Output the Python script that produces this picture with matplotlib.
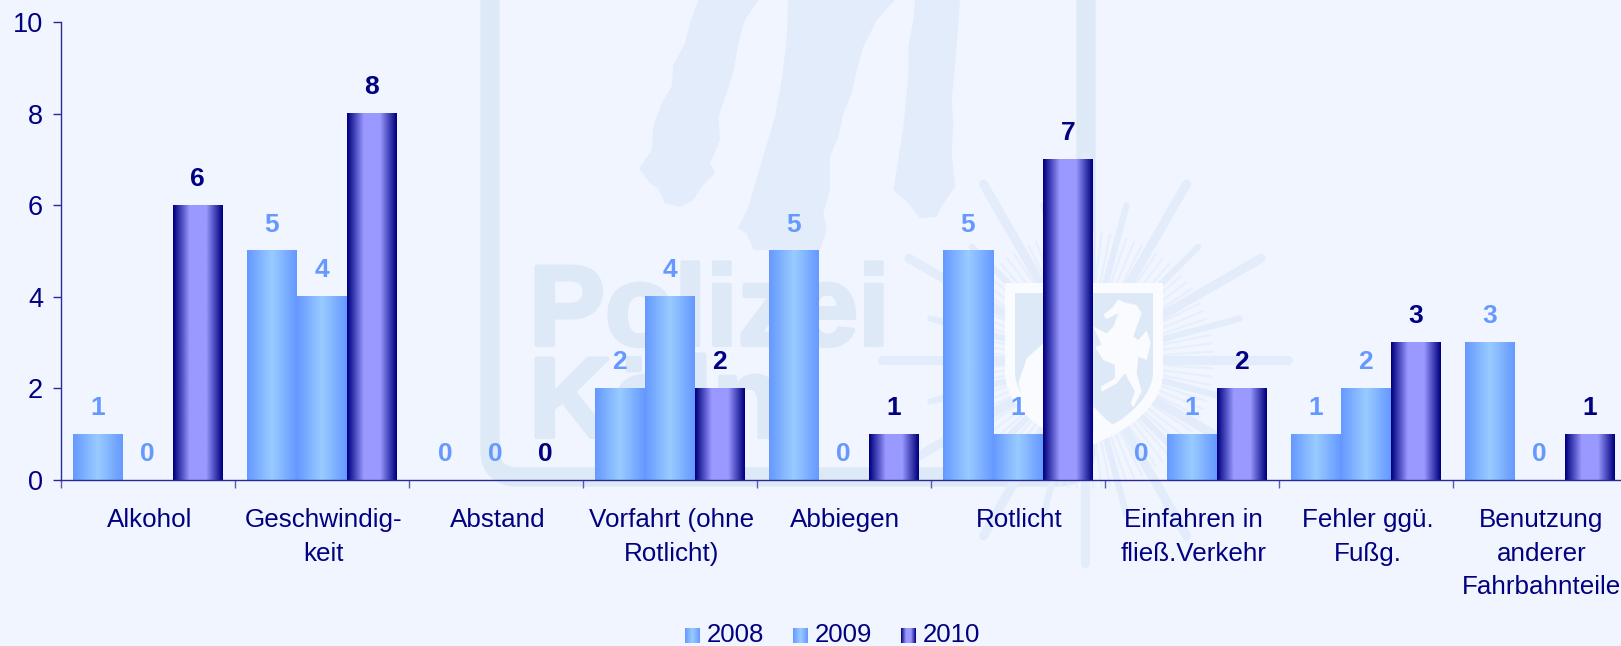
import numpy as np
import matplotlib
matplotlib.use('Agg')
import matplotlib.pyplot as plt
import matplotlib.patheffects as pe
from matplotlib.colors import LinearSegmentedColormap
from matplotlib.patches import FancyBboxPatch, Polygon, PathPatch
from matplotlib.path import Path

plt.rcParams['font.family'] = ['Liberation Sans', 'DejaVu Sans']

# Data
categories = ['Alkohol', 'Geschwindig-\nkeit', 'Abstand', 'Vorfahrt (ohne\nRotlicht)', 'Abbiegen',
              'Rotlicht', 'Einfahren in\nfließ.Verkehr', 'Fehler ggü.\nFußg.',
              'Benutzung\nanderer\nFahrbahnteile']
years = ['2008', '2009', '2010']
v2008 = [1, 5, 0, 2, 5, 5, 0, 1, 3]
v2009 = [0, 4, 0, 4, 0, 1, 1, 2, 0]
v2010 = [6, 8, 0, 2, 1, 7, 2, 3, 1]
yticks = [0, 2, 4, 6, 8, 10]

W, H = 1621, 646
BG = '#F1F5FF'
WM = '#DEE9F8'
WM_SOFT = '#E3ECFA'
WM_FINE = '#E7EFFB'
WHITE = '#FAFBFE'
NAVY = '#000080'
LIGHT = '#6699FF'
AXIS = '#2A2A96'

light_cmap = LinearSegmentedColormap.from_list('light', ['#6699FF', '#99CCFF', '#6699FF'])
dark_cmap = LinearSegmentedColormap.from_list('dark', ['#000080', '#9999FF', '#9999FF', '#000080'])
grad = np.linspace(0, 1, 64).reshape(1, -1)

fig = plt.figure(figsize=(W / 100, H / 100), dpi=100, facecolor=BG)

# Background layer in pixel coordinates: watermark and legend
bg = fig.add_axes([0, 0, 1, 1], zorder=0)
bg.set_xlim(0, W)
bg.set_ylim(H, 0)
bg.axis('off')

# frame of the logo
bg.add_patch(FancyBboxPatch((490, -60), 596, 537, boxstyle='round,pad=0,rounding_size=28',
                            fill=False, ec=WM, lw=14))

streak1 = [(205, 0), (385, 0), (345, 60), (325, 130), (310, 215), (290, 280), (265, 350), (270, 420), (240, 490),
           (255, 520), (215, 560), (190, 600), (150, 620), (105, 610), (85, 565), (60, 550), (28, 505), (65, 450),
           (70, 380), (95, 310), (125, 260), (130, 195), (165, 130), (180, 70)]
streak2 = [(475, 0), (795, 0), (740, 60), (700, 140), (680, 210), (665, 280), (640, 340), (625, 410), (600, 470),
           (600, 570), (580, 640), (590, 690), (570, 750), (370, 750), (350, 700), (325, 685), (355, 620), (385, 520),
           (405, 450), (435, 350), (455, 240), (470, 120)]
streak3 = [(855, 0), (990, 0), (985, 70), (975, 200), (965, 300), (970, 370), (965, 460), (975, 560), (935, 620),
           (920, 650), (870, 655), (835, 610), (790, 570), (805, 480), (820, 380), (835, 230), (835, 140), (850, 60)]
for s in [streak1, streak2, streak3]:
    pts = [(630 + px / 3, py / 3) for px, py in s]
    bg.add_patch(Polygon(pts, closed=True, fc=WM_SOFT, ec='none'))

# star behind the shield
cx, cy = 1085, 360
for a in np.arange(0, 360, 3.75):
    rad = np.deg2rad(a)
    if a % 30 == 0:
        r, lw, col = 203, 6.5, WM_SOFT
    elif a % 15 == 0:
        r, lw, col = 160, 4.5, WM_SOFT
    else:
        r, lw, col = 128, 1.5, WM_FINE
    bg.plot([cx + 60 * np.cos(rad), cx + r * np.cos(rad)],
            [cy + 60 * np.sin(rad), cy + r * np.sin(rad)],
            color=col, lw=lw, solid_capstyle='round', zorder=1)

def crop_pts(pts):
    return [(880 + px / 3, 170 + py / 3) for px, py in pts]

def shield_path(l, r, t, b):
    m = (l + r) / 2
    s = t + (b - t) * 0.55
    verts = [(l, t), (r, t), (r, s), (r, b - 40), (m + 40, b - 12), (m, b), (m - 40, b - 12), (l, b - 40), (l, s), (l, t)]
    codes = [Path.MOVETO, Path.LINETO, Path.LINETO, Path.CURVE4, Path.CURVE4, Path.CURVE4, Path.CURVE4, Path.CURVE4,
             Path.CURVE4, Path.CLOSEPOLY]
    return Path(verts, codes)

bg.add_patch(PathPatch(shield_path(1005, 1163, 283, 447), fc=WHITE, ec='none', zorder=3))
bg.add_patch(PathPatch(shield_path(1015, 1153, 293, 437), fc=WM, ec='none', zorder=3))
horse = [(715, 388), (735, 398), (770, 405), (785, 430), (770, 470), (760, 500), (775, 510), (800, 482), (812, 520),
         (800, 570), (775, 560), (770, 610), (785, 665), (760, 712), (752, 700), (765, 665), (735, 610), (710, 640),
         (665, 665), (662, 650), (705, 625), (705, 585), (670, 570), (645, 530), (665, 525), (640, 470), (680, 490),
         (700, 470), (715, 430), (680, 447), (670, 435), (700, 410)]
bg.add_patch(Polygon(crop_pts(horse), closed=True, fc=WHITE, ec='none', zorder=4))
bg.add_patch(Polygon(crop_pts([(415, 640), (440, 565), (490, 520), (490, 775), (440, 720)]), closed=True,
                     fc=WHITE, ec='none', zorder=4))
bg.add_patch(Polygon(crop_pts([(640, 710), (680, 750), (720, 780), (640, 825)]), closed=True,
                     fc=WHITE, ec='none', zorder=4))

# logo text
stroke = [pe.withStroke(linewidth=3, foreground=WM)]
bg.text(529, 345, 'Polizei', fontsize=82, fontweight='bold', color=WM, va='baseline', path_effects=stroke, zorder=2)
bg.text(529, 437, 'Köln', fontsize=82, fontweight='bold', color=WM, va='baseline', path_effects=stroke, zorder=2)

# Chart
left, right = 60.7, 60.7 + 9 * 174
top, bottom = 22, 480
ax = fig.add_axes([left / W, 1 - bottom / H, (right - left) / W, (bottom - top) / H], zorder=1)
ax.patch.set_alpha(0)
x = np.arange(len(categories))
bar_w = 50 / 174

series = [(v2008, light_cmap, LIGHT), (v2009, light_cmap, LIGHT), (v2010, dark_cmap, NAVY)]
for j, (vals, cmap, col) in enumerate(series):
    for i, v in enumerate(vals):
        xc = x[i] + 0.5 + (j - 1) * bar_w
        if v > 0:
            ax.imshow(grad, cmap=cmap, aspect='auto', interpolation='bilinear', zorder=2,
                      extent=[xc - bar_w / 2, xc + bar_w / 2, 0, v])
        ax.annotate(str(v), (xc, v), xytext=(0, 14), textcoords='offset points', ha='center', va='baseline',
                    fontsize=19, fontweight='bold', color=col, zorder=4)

ax.set_xlim(0, 9)
ax.set_ylim(0, 10)
ax.set_yticks(yticks)
ax.set_xticks(np.arange(0, 10))
ax.set_xticklabels([])
ax.set_xticks(x + 0.51, labels=categories, minor=True)
ax.tick_params(axis='x', which='minor', length=0, pad=20.5, labelsize=18.7, labelcolor=NAVY)
ax.tick_params(axis='x', which='major', length=5.8, width=1, color='#5A5AB0')
ax.tick_params(axis='y', length=5.8, width=1, color=AXIS, labelsize=19.5, labelcolor=NAVY, pad=7)
for lab in ax.get_xticklabels(minor=True):
    lab.set_linespacing(1.5)
for side in ['top', 'right']:
    ax.spines[side].set_visible(False)
for side in ['left', 'bottom']:
    ax.spines[side].set_color(AXIS)
    ax.spines[side].set_linewidth(1)

# Legend
legend_x = [685, 793, 901]
for name, lx, cmap in zip(years, legend_x, [light_cmap, light_cmap, dark_cmap]):
    bg.imshow(grad, cmap=cmap, aspect='auto', interpolation='bilinear', extent=[lx, lx + 15, 643, 628])
    bg.text(lx + 22, 642, name, fontsize=18.5, color=NAVY, va='baseline')
bg.set_xlim(0, W)
bg.set_ylim(H, 0)

fig.savefig('out.png', dpi=100, facecolor=BG)
